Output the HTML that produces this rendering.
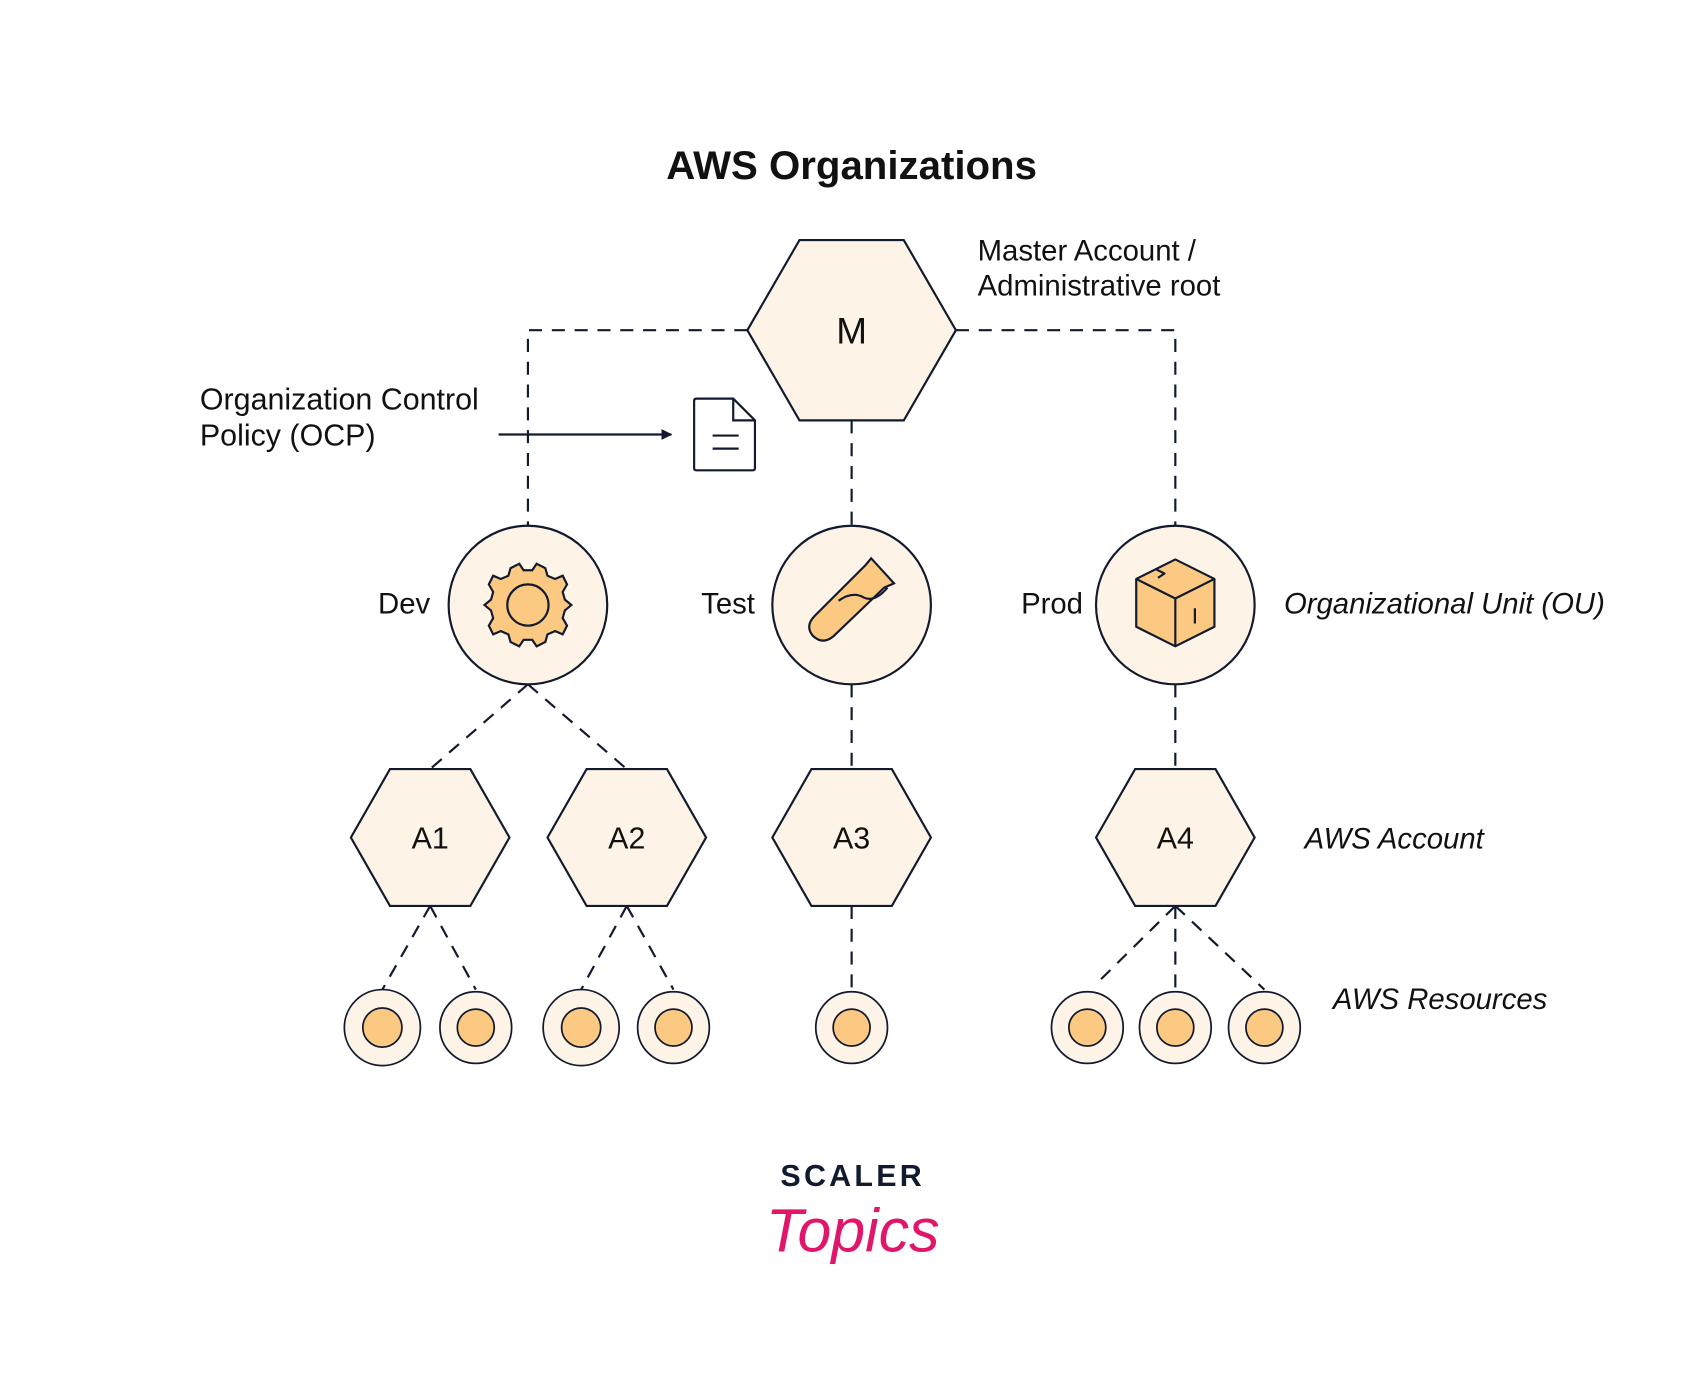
<!DOCTYPE html>
<html><head><meta charset="utf-8"><style>
html,body{margin:0;padding:0;background:#fff;}
svg{display:block;}
text{font-family:"Liberation Sans",sans-serif;fill:#111;}
</style></head><body>
<svg width="1700" height="1373" viewBox="0 0 1565 1264" xmlns="http://www.w3.org/2000/svg">
<defs>
<marker id="ah" markerWidth="10" markerHeight="10" refX="9" refY="5" orient="auto" markerUnits="userSpaceOnUse">
<path d="M0,0 L10,5 L0,10 z" fill="#111a2e"/></marker>
</defs>
<text x="784" y="165" text-anchor="middle" font-size="37" font-weight="bold">AWS Organizations</text>

<g stroke="#111a2e" stroke-width="2" fill="none" stroke-dasharray="12,9">
<path d="M688,304 H486 V484"/>
<path d="M880,304 H1082 V484"/>
<path d="M784,387 V484"/>
<path d="M486,630 L396,708 M486,630 L577,708"/>
<path d="M784,630 V708 M1082,630 V708"/>
<path d="M396,834 L352,911 M396,834 L438,911"/>
<path d="M577,834 L535,911 M577,834 L620,911"/>
<path d="M784,834 V911"/>
<path d="M1082,834 L1010,905 M1082,834 V911 M1082,834 L1164,911"/>
</g>

<polygon points="688,304 736,221 832,221 880,304 832,387 736,387" fill="#fdf4e7" stroke="#111a2e" stroke-width="2"/>
<text x="784" y="316" text-anchor="middle" font-size="34">M</text>
<text x="900" y="240" font-size="27">Master Account /</text>
<text x="900" y="272" font-size="27">Administrative root</text>

<text x="184" y="377" font-size="28">Organization Control</text>
<text x="184" y="410" font-size="28">Policy (OCP)</text>
<line x1="459" y1="400" x2="618" y2="400" stroke="#111a2e" stroke-width="2" marker-end="url(#ah)"/>
<path d="M641,367 H675 L695,387 V431 Q695,433 693,433 H641 Q639,433 639,431 V369 Q639,367 641,367 Z M675,367 V387 H695" fill="#fff" stroke="#111a2e" stroke-width="2"/>
<line x1="656" y1="401" x2="680" y2="401" stroke="#111a2e" stroke-width="2"/>
<line x1="656" y1="413" x2="680" y2="413" stroke="#111a2e" stroke-width="2"/>

<g fill="#fdf4e7" stroke="#111a2e" stroke-width="2">
<circle cx="486" cy="557" r="73"/><circle cx="784" cy="557" r="73"/><circle cx="1082" cy="557" r="73"/>
</g>
<g transform="translate(486,557)" fill="#fcc983" stroke="#111a2e" stroke-width="2">
<path d="M-8,-38 L-4,-32 L4,-32 L8,-38 L16,-34 L18,-27 L25,-24 L32,-27 L36,-19 L32,-12 L34,-5 L40,0 L34,5 L32,12 L36,19 L32,27 L25,24 L18,27 L16,34 L8,38 L4,32 L-4,32 L-8,38 L-16,34 L-18,27 L-25,24 L-32,27 L-36,19 L-32,12 L-34,5 L-40,0 L-34,-5 L-32,-12 L-36,-19 L-32,-27 L-25,-24 L-18,-27 L-16,-34 Z"/>
<circle r="19"/>
</g>
<g fill="#fcc983" stroke="#111a2e" stroke-width="2">
<path d="M802,514 L823,537 L814,541 L767,586 Q757,594 748,585 Q741,576 750,567 L797,520 Z"/>
<path d="M772,553 Q785,544 795,550 Q805,555 817,541" fill="none"/>
</g>
<g fill="#fcc983" stroke="#111a2e" stroke-width="2" stroke-linejoin="round">
<path d="M1046,533 L1082,515 L1118,533 L1118,577 L1082,595 L1046,577 Z"/>
<path d="M1046,533 L1082,551 L1118,533 M1082,551 V595" fill="none"/>
<path d="M1064,524 L1072,528 L1066,532 M1100,560 V574" fill="none"/>
</g>
<text x="396" y="565" text-anchor="end" font-size="27">Dev</text>
<text x="695" y="565" text-anchor="end" font-size="27">Test</text>
<text x="997" y="565" text-anchor="end" font-size="27">Prod</text>
<text x="1182" y="565" font-size="27" font-style="italic">Organizational Unit (OU)</text>

<g fill="#fdf4e7" stroke="#111a2e" stroke-width="2">
<polygon points="323,771 359,708 433,708 469,771 433,834 359,834"/>
<polygon points="504,771 540,708 614,708 650,771 614,834 540,834"/>
<polygon points="711,771 747,708 821,708 857,771 821,834 747,834"/>
<polygon points="1009,771 1045,708 1119,708 1155,771 1119,834 1045,834"/>
</g>
<g font-size="28" text-anchor="middle">
<text x="396" y="781">A1</text><text x="577" y="781">A2</text><text x="784" y="781">A3</text><text x="1082" y="781">A4</text>
</g>
<text x="1201" y="781" font-size="27" font-style="italic">AWS Account</text>

<g stroke="#111a2e" stroke-width="1.6">
<g fill="#fdf4e7">
<circle cx="352" cy="946" r="35"/><circle cx="438" cy="946" r="33"/><circle cx="535" cy="946" r="35"/><circle cx="620" cy="946" r="33"/>
<circle cx="784" cy="946" r="33"/><circle cx="1001" cy="946" r="33"/><circle cx="1082" cy="946" r="33"/><circle cx="1164" cy="946" r="33"/>
</g>
<g fill="#fcc983">
<circle cx="352" cy="946" r="18"/><circle cx="438" cy="946" r="17"/><circle cx="535" cy="946" r="18"/><circle cx="620" cy="946" r="17"/>
<circle cx="784" cy="946" r="17"/><circle cx="1001" cy="946" r="17"/><circle cx="1082" cy="946" r="17"/><circle cx="1164" cy="946" r="17"/>
</g>
</g>
<text x="1227" y="929" font-size="27" font-style="italic">AWS Resources</text>

<text x="785" y="1092" text-anchor="middle" font-size="28" font-weight="bold" letter-spacing="3" style="fill:#111a2e">SCALER</text>
<text x="785" y="1152" text-anchor="middle" font-size="56" font-style="italic" font-family="Liberation Serif, serif" style="fill:#e0166a">Topics</text>
</svg>
</body></html>
